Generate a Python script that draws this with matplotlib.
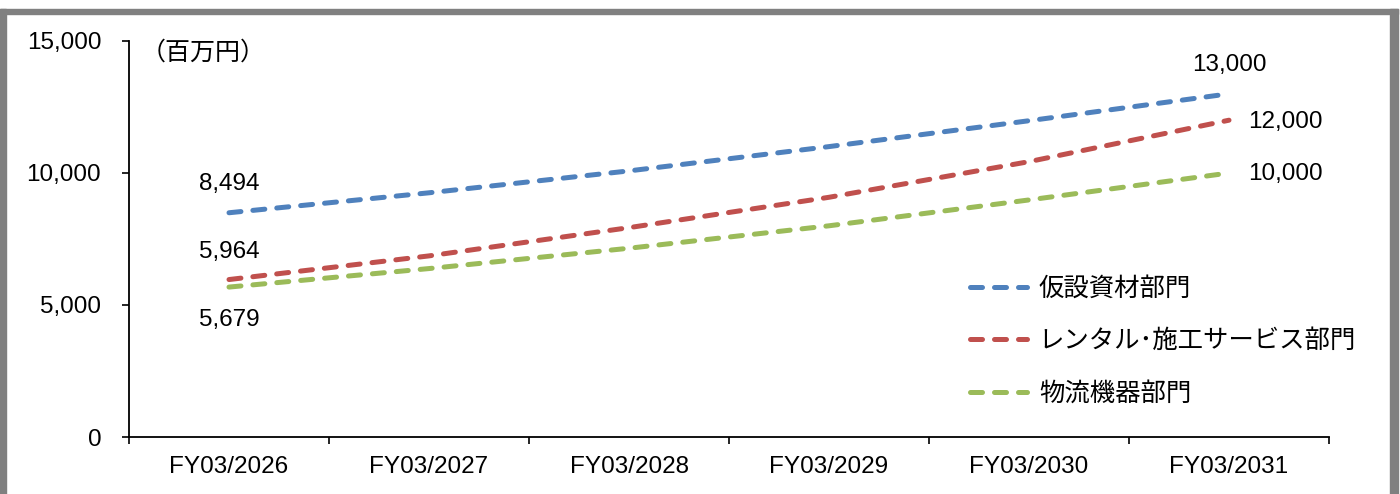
import matplotlib
matplotlib.use("Agg")
import matplotlib.pyplot as plt
from matplotlib.patches import Rectangle

plt.rcParams['font.family'] = ['Liberation Sans', 'Noto Sans CJK JP', 'DejaVu Sans']

# data
years = ['FY03/2026', 'FY03/2027', 'FY03/2028', 'FY03/2029', 'FY03/2030', 'FY03/2031']
kasetsu = [8494, 9250, 10080, 11000, 11980, 13000]
rental = [5964, 6860, 7930, 9080, 10430, 12000]
butsuryu = [5679, 6380, 7150, 8000, 8980, 10000]
names = ['仮設資材部門', 'レンタル\uff65施工サービス部門', '物流機器部門']
colors = ['#4F81BD', '#C0504D', '#9BBB59']

fig = plt.figure(figsize=(14, 4.94), dpi=100)
ax = fig.add_axes([129/1400, 57/494, 1200/1400, 396/494])

x = list(range(len(years)))
for vals, name, col in zip([kasetsu, rental, butsuryu], names, colors):
    ax.plot(x, vals, color=col, lw=3.6, dashes=(2.4, 2.4),
            dash_capstyle='round', solid_capstyle='round', label=name)

ax.set_xlim(-0.5, len(years) - 0.5)
ax.set_ylim(0, 15000)
ax.set_yticks([0, 5000, 10000, 15000])
ax.set_yticklabels([f'{v:,}' for v in [0, 5000, 10000, 15000]])
ax.set_xticks(x)
ax.set_xticklabels(years)
ax.set_xticks([i - 0.5 for i in range(len(years) + 1)], minor=True)
ax.tick_params(axis='x', which='major', length=0, pad=14, labelsize=17.5)
ax.tick_params(axis='x', which='minor', length=5, width=1.2, direction='out')
ax.tick_params(axis='y', length=5, width=1.2, pad=15, labelsize=17.5)

for s in ['top', 'right']:
    ax.spines[s].set_visible(False)
for s in ['left', 'bottom']:
    ax.spines[s].set_linewidth(1.3)

# data labels at the ends
fs = 17.5
ax.annotate(f'{kasetsu[0]:,}', (0, kasetsu[0]), xytext=(0, 20.5), textcoords='offset points',
            ha='center', va='center', fontsize=fs)
ax.annotate(f'{rental[0]:,}', (0, rental[0]), xytext=(0, 19.5), textcoords='offset points',
            ha='center', va='center', fontsize=fs)
ax.annotate(f'{butsuryu[0]:,}', (0, butsuryu[0]), xytext=(0, -23.5), textcoords='offset points',
            ha='center', va='center', fontsize=fs)
ax.annotate(f'{kasetsu[-1]:,}', (5, kasetsu[-1]), xytext=(0, 20.5), textcoords='offset points',
            ha='center', va='center', fontsize=fs)
ax.annotate(f'{rental[-1]:,}', (5, rental[-1]), xytext=(14, -1), textcoords='offset points',
            ha='left', va='center', fontsize=fs)
ax.annotate(f'{butsuryu[-1]:,}', (5, butsuryu[-1]), xytext=(14, -1), textcoords='offset points',
            ha='left', va='center', fontsize=fs)

ax.text(0.01, 0.97, '（百万円）', transform=ax.transAxes, fontsize=18,
        ha='left', va='center')

ax.legend(loc='upper left', bbox_to_anchor=(0.701, 0.405), frameon=False,
          fontsize=18.3, handlelength=2.25, handletextpad=0.45, labelspacing=1.13,
          borderpad=0, borderaxespad=0)

# gray frame
gray = '#808080'
fig.patches.append(Rectangle((0, 0), 6/1400, 485/494, transform=fig.transFigure,
                             color=gray, zorder=0))
fig.patches.append(Rectangle((1390/1400, 0), 8/1400, 485/494, transform=fig.transFigure,
                             color=gray, zorder=0))
fig.patches.append(Rectangle((0, 480/494), 1398/1400, 5/494, transform=fig.transFigure,
                             color=gray, zorder=0))

fig.savefig('out.png', dpi=100)
